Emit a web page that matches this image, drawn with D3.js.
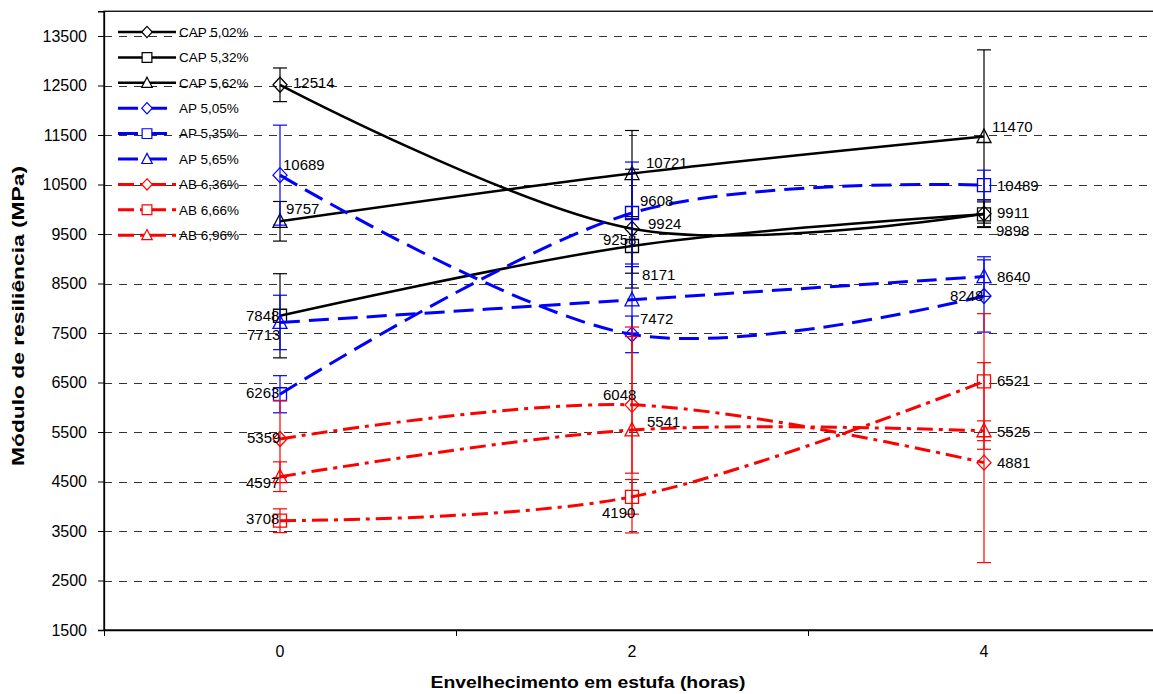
<!DOCTYPE html>
<html><head><meta charset="utf-8">
<script src="https://cdn.jsdelivr.net/npm/d3@7"></script>
<style>
html,body{margin:0;padding:0;background:#fff;}
svg{display:block;font-family:"Liberation Sans",Arial,sans-serif;}
</style></head>
<body>
<svg id="chart" width="1153" height="694"></svg>
<script>
// ---------- DATA ----------
const categories = ["0", "2", "4"];
const seriesNames = ["CAP 5,02%", "CAP 5,32%", "CAP 5,62%", "AP 5,05%", "AP 5,35%", "AP 5,65%", "AB 6,36%", "AB 6,66%", "AB 6,96%"];
const cap502 = [12514, 9608, 9911];
const cap532 = [7848, 9258, 9898];
const cap562 = [9757, 10721, 11470];
const ap505 = [10689, 7472, 8248];
const ap535 = [6263, 9924, 10489];
const ap565 = [7713, 8171, 8640];
const ab636 = [5359, 6048, 4881];
const ab666 = [3708, 4190, 6521];
const ab696 = [4597, 5541, 5525];
// error (± MPa)
const errCap502 = [340, 1200, 280];
const errCap532 = [850, 550, 250];
const errCap562 = [400, 870, 1750];
const errAp505 = [1010, 370, 730];
const errAp535 = [375, 1030, 300];
const errAp565 = [550, 670, 400];
const errAb636 = [780, 1380, 2020];
const errAb666 = [240, 350, 1370];
const errAb696 = [300, 2080, 200];
const yTicks = [1500, 2500, 3500, 4500, 5500, 6500, 7500, 8500, 9500, 10500, 11500, 12500, 13500];

// ---------- LAYOUT / STYLE ----------
const values = [cap502, cap532, cap562, ap505, ap535, ap565, ab636, ab666, ab696];
const errors = [errCap502, errCap532, errCap562, errAp505, errAp535, errAp565, errAb636, errAb666, errAb696];
const colors = ["#000", "#000", "#000", "#0000ff", "#0000ff", "#0000ff", "#ff0000", "#ff0000", "#ff0000"];
const markers = ["diamond", "square", "triangle", "diamond", "square", "triangle", "diamond", "square", "triangle"];
const dashes = [null, null, null, "20,9", "20,9", "20,9", "16,6,4,6", "16,6,4,6", "16,6,4,6"];
const widths = [2.5, 2.5, 2.5, 3, 3, 3, 3, 3, 3];
// label offsets [dx, dy] relative to the point, per series per category
const labelOffsets = [
  [[13, -2], [8, -28], [13, -1]],
  [[-34, 0], [-29, -6], [12, 16]],
  [[6, -13], [14, -11], [8, -10]],
  [[3, -10], [8, -16], [-34, 0]],
  [[-34, -1], [16, 11], [13, 1]],
  [[-33, 12], [10, -25], [13, 0]],
  [[-33, -1], [-29, -10], [13, 0]],
  [[-34, -2], [-30, 16], [13, -1]],
  [[-34, 6], [15, -8], [13, 1]]
];

const plot = {left: 104, right: 1160, top: 11.25, bottom: 630};
const svg = d3.select("#chart");

const x = d3.scaleBand().domain(categories).range([plot.left, plot.right]).padding(0);
const xEdge = d3.scaleLinear().domain([0, categories.length]).range([plot.left, plot.right]);
const y = d3.scaleLinear().domain([1500, 14000]).range([plot.bottom, plot.top]);
const cx = c => x(c) + x.bandwidth() / 2;

// gridlines
svg.append("g").selectAll("line").data(yTicks.filter(t => t > 1500)).join("line")
  .attr("x1", plot.left).attr("x2", plot.right)
  .attr("y1", d => Math.round(y(d)) + 0.5).attr("y2", d => Math.round(y(d)) + 0.5)
  .attr("stroke", "#333").attr("stroke-width", 1).attr("stroke-dasharray", "8,7");

// border
svg.append("rect").attr("x", plot.left).attr("y", plot.top)
  .attr("width", plot.right - plot.left).attr("height", plot.bottom - plot.top)
  .attr("fill", "none").attr("stroke", "#000").attr("stroke-width", 1.3);

// y axis
const yAxis = svg.append("g").attr("transform", `translate(${plot.left},0)`)
  .call(d3.axisLeft(y).tickValues(yTicks).tickSize(6).tickPadding(11).tickFormat(d3.format("d")));
yAxis.select(".domain").attr("stroke", "#000").attr("stroke-width", 1.3);
yAxis.selectAll("text").attr("font-size", 16).attr("fill", "#000").attr("font-family", "Liberation Sans, Arial, sans-serif");

// x axis: labels centered, ticks at band edges
const xAxis = svg.append("g").attr("transform", `translate(0,${plot.bottom})`)
  .call(d3.axisBottom(x).tickSize(0).tickPadding(16));
xAxis.select(".domain").attr("stroke", "#000").attr("stroke-width", 1.3);
xAxis.selectAll("text").attr("font-size", 16).attr("fill", "#000").attr("font-family", "Liberation Sans, Arial, sans-serif");
svg.append("g").attr("transform", `translate(0,${plot.bottom})`)
  .call(d3.axisBottom(xEdge).tickValues(d3.range(0, categories.length + 1)).tickSize(6).tickFormat(""))
  .call(g => g.select(".domain").remove())
  .selectAll("line").attr("stroke", "#000");

// axis titles
svg.append("text").attr("transform", `translate(24,316) rotate(-90)`)
  .attr("text-anchor", "middle").attr("font-weight", "bold").attr("font-size", 16.5)
  .attr("textLength", 300).attr("lengthAdjust", "spacingAndGlyphs")
  .text("Módulo de resiliência (MPa)");
svg.append("text").attr("x", 588).attr("y", 688)
  .attr("text-anchor", "middle").attr("font-weight", "bold").attr("font-size", 16.5)
  .attr("textLength", 315).attr("lengthAdjust", "spacingAndGlyphs")
  .text("Envelhecimento em estufa (horas)");

function markerPath(type) {
  if (type === "diamond") return "M0,-7.5L7,0L0,7.5L-7,0Z";
  if (type === "square") return "M-6.5,-6.5H6.5V6.5H-6.5Z";
  return "M0,-7.5L7,6L-7,6Z";
}

const line = d3.line().x((d, i) => cx(categories[i])).y(d => y(d)).curve(d3.curveCardinal.tension(0));

values.forEach((vals, s) => {
  const g = svg.append("g");
  // error bars
  vals.forEach((v, i) => {
    const e = errors[s][i];
    const px = cx(categories[i]);
    g.append("line").attr("x1", px).attr("x2", px).attr("y1", y(v + e)).attr("y2", y(v - e))
      .attr("stroke", colors[s]).attr("stroke-width", 1.2);
    [v + e, v - e].forEach(t => {
      g.append("line").attr("x1", px - 7).attr("x2", px + 7).attr("y1", y(t)).attr("y2", y(t))
        .attr("stroke", colors[s]).attr("stroke-width", 1.2);
    });
  });
  g.append("path").datum(vals).attr("d", line).attr("fill", "none")
    .attr("stroke", colors[s]).attr("stroke-width", widths[s])
    .attr("stroke-dasharray", dashes[s]);
  g.selectAll("path.mk").data(vals).join("path").attr("class", "mk")
    .attr("transform", (d, i) => `translate(${cx(categories[i])},${y(d)})`)
    .attr("d", markerPath(markers[s])).attr("fill", "none")
    .attr("stroke", colors[s]).attr("stroke-width", 1.3);
});

// data labels
values.forEach((vals, s) => {
  vals.forEach((v, i) => {
    const [dx, dy] = labelOffsets[s][i];
    svg.append("text").attr("x", cx(categories[i]) + dx).attr("y", y(v) + dy)
      .attr("dy", "0.35em").attr("font-size", 15).attr("fill", "#000").text(v);
  });
});

// legend
const leg = svg.append("g");
seriesNames.forEach((name, s) => {
  const ly = 32 + 25.4 * s;
  leg.append("line").attr("x1", 118).attr("x2", 176).attr("y1", ly).attr("y2", ly)
    .attr("stroke", colors[s]).attr("stroke-width", widths[s]).attr("stroke-dasharray", dashes[s]);
  leg.append("path").attr("transform", `translate(147,${ly}) scale(0.75)`).attr("d", markerPath(markers[s]))
    .attr("fill", "#fff").attr("stroke", colors[s]).attr("stroke-width", 1.6);
  leg.append("text").attr("x", 179).attr("y", ly).attr("dy", "0.35em").attr("font-size", 13.5).text(name);
});
</script>
</body></html>
